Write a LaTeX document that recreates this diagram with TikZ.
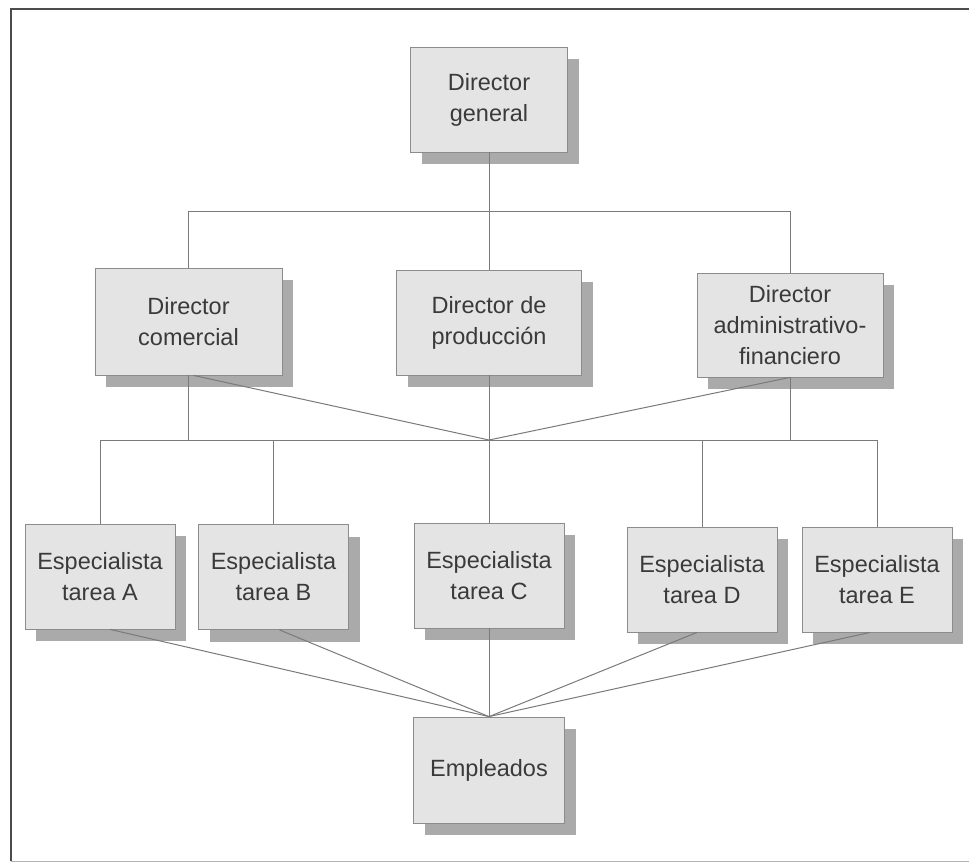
\documentclass[tikz,border=0pt]{standalone}
\usepackage{fontspec}
\setmainfont{Liberation Sans}
\usetikzlibrary{shadows}
\definecolor{boxfill}{HTML}{E4E4E4}
\definecolor{boxline}{HTML}{8C8C8C}
\definecolor{shade}{HTML}{AAAAAA}
\definecolor{ink}{HTML}{3A3A3A}
\definecolor{wire}{HTML}{7A7A7A}
\begin{document}
\begin{tikzpicture}[x=1pt,y=-1pt,
  orgbox/.style={draw=boxline, fill=boxfill, line width=0.8pt, inner sep=0pt,
    minimum width=150pt, minimum height=105pt, align=center, text=ink,
    font=\fontsize{23.5}{31}\selectfont,
    drop shadow={shadow xshift=11pt, shadow yshift=-12pt, opacity=1, fill=shade, draw=none}},
  wirestyle/.style={draw=wire, line width=1pt}]
  % page area and frame
  \fill[white] (0,0) rectangle (969,863);
  \useasboundingbox (0,0) rectangle (969,863);
  \draw[line width=1.6pt, draw=black!70] (11,861) -- (11,9) -- (969,9);
  \draw[line width=1pt, draw=black!30] (11,861) -- (969,861);

  % boxes
  \node[orgbox, minimum width=157pt] (dg) at (489,99.5) {Director\\general};
  \node[orgbox, minimum width=187pt, minimum height=107pt] (dc) at (188.5,321.5) {Director\\comercial};
  \node[orgbox, minimum width=185pt] (dp) at (489,322.5) {Director de\\producción};
  \node[orgbox, minimum width=186pt, minimum height=104pt] (da) at (790,325) {Director\\administrativo-\\financiero};

  \node[orgbox] (ea) at (100,576.5) {Especialista\\tarea A};
  \node[orgbox] (eb) at (273.5,577) {Especialista\\tarea B};
  \node[orgbox] (ec) at (489,575.5) {Especialista\\tarea C};
  \node[orgbox] (ed) at (702,579.5) {Especialista\\tarea D};
  \node[orgbox] (ee) at (877,579.5) {Especialista\\tarea E};

  \node[orgbox, minimum width=151pt, minimum height=106pt] (emp) at (489,770) {Empleados};

  % bus junctions
  \coordinate (b1) at (489,211);
  \coordinate (b2) at (489,440);

  % general director to the three directors
  \draw[wirestyle] (dg.south) -- (b1);
  \draw[wirestyle] (dc.north) |- (b1);
  \draw[wirestyle] (da.north) |- (b1);
  \draw[wirestyle] (dp.north) -- (b1);

  % directors to the specialists
  \draw[wirestyle] (dc.south) -- (dc.south |- b2);
  \draw[wirestyle] (da.south) -- (da.south |- b2);
  \draw[wirestyle] (dp.south) -- (ec.north);
  \draw[wirestyle] ([xshift=5pt]dc.south) -- (b2);
  \draw[wirestyle] (da.south) -- (b2);
  \draw[wirestyle] (ea.north) |- (b2);
  \draw[wirestyle] (ee.north) |- (b2);
  \draw[wirestyle] (eb.north) -- (eb.north |- b2);
  \draw[wirestyle] (ed.north) -- (ed.north |- b2);

  % specialists to employees
  \draw[wirestyle] ([xshift=10pt]ea.south) -- (emp.north);
  \draw[wirestyle] ([xshift=6pt]eb.south) -- (emp.north);
  \draw[wirestyle] (ec.south) -- (emp.north);
  \draw[wirestyle] ([xshift=-5pt]ed.south) -- (emp.north);
  \draw[wirestyle] ([xshift=-7pt]ee.south) -- (emp.north);
\end{tikzpicture}
\end{document}
